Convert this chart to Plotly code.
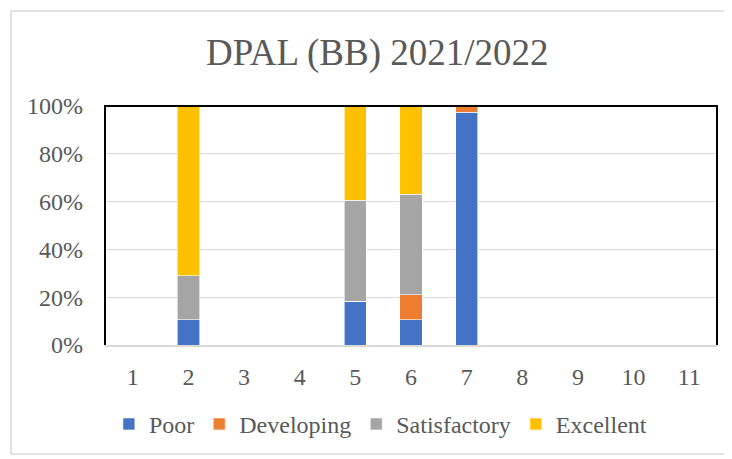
import plotly.graph_objects as go

categories = ["1", "2", "3", "4", "5", "6", "7", "8", "9", "10", "11"]
poor = [0, 10.5, 0, 0, 18.4, 10.5, 97.4, 0, 0, 0, 0]
developing = [0, 0, 0, 0, 0, 10.5, 2.6, 0, 0, 0, 0]
satisfactory = [0, 18.4, 0, 0, 42.1, 42.1, 0, 0, 0, 0, 0]
excellent = [0, 71.1, 0, 0, 39.5, 36.9, 0, 0, 0, 0, 0]

series = [
    ("Poor", poor, "#4472C4"),
    ("Developing", developing, "#ED7D31"),
    ("Satisfactory", satisfactory, "#A5A5A5"),
    ("Excellent", excellent, "#FFC000"),
]

FONT = "Liberation Serif"
TXT = "#595959"

fig = go.Figure()
for name, vals, col in series:
    fig.add_trace(go.Bar(
        x=categories, y=vals, name=name,
        marker=dict(color=col, line=dict(color="white", width=0.6)),
    ))

# page body has an 8px margin, so the figure is shrunk/offset accordingly
W, H = 724, 451
fig.update_layout(
    barmode="stack",
    bargap=0.6,
    width=W, height=H,
    margin=dict(l=97, r=15, t=98, b=112),
    paper_bgcolor="white", plot_bgcolor="white",
    font=dict(family=FONT, color=TXT, size=24),
    title=dict(text="DPAL (BB) 2021/2022", x=0.51, xanchor="center",
               y=1 - 44 / H, yanchor="middle",
               font=dict(family=FONT, size=37, color=TXT)),
    legend=dict(orientation="h", x=0.45, xanchor="center", y=-0.332,
                yanchor="middle", traceorder="normal",
                font=dict(family=FONT, size=24, color=TXT)),
    xaxis=dict(showline=True, linecolor="#d9d9d9", linewidth=1.5,
               ticks="", ticklabelstandoff=9, showgrid=False),
    yaxis=dict(range=[0, 100], dtick=20, ticksuffix="%",
               showgrid=True, gridcolor="#d9d9d9", gridwidth=1,
               zeroline=False, ticks="", ticklabelstandoff=21),
    shapes=[
        dict(type="path", xref="paper", yref="paper",
             path="M 0,0 L 0,1 L 1,1 L 1,0",
             line=dict(color="black", width=2)),
        dict(type="rect", xref="paper", yref="paper",
             x0=-0.1536, x1=1.03, y0=-0.456, y1=1.398,
             line=dict(color="#d9d9d9", width=1.5), layer="below"),
    ],
)

fig.write_html("out.html")
